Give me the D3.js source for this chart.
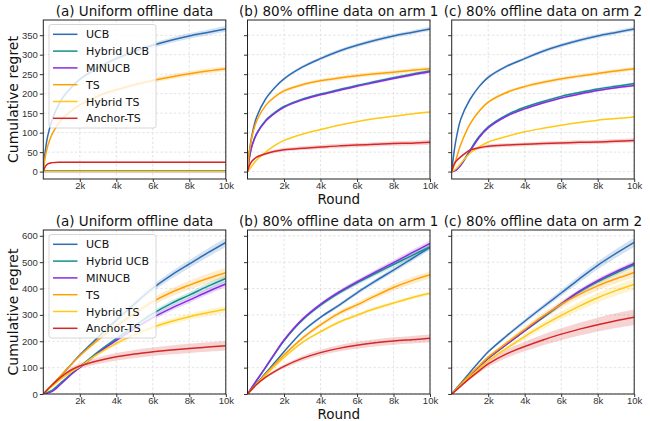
<!DOCTYPE html>
<html>
<head>
<meta charset="utf-8">
<script src="https://cdn.jsdelivr.net/npm/d3@7"></script>
<style>
  body { margin: 0; background: #fff; }
  svg { font-family: "DejaVu Sans", sans-serif; }
  .tick text { fill: #333; font-size: 9.5px; }
  .tick line { stroke: #333; }
</style>
</head>
<body>
<svg id="chart" width="650" height="421"></svg>
<script>
const SERIES = ["UCB", "Hybrid UCB", "MINUCB", "TS", "Hybrid TS", "Anchor-TS"];
const COLORS = ["#2d6db5", "#11908c", "#8a2be2", "#ffa000", "#ffc916", "#d62728"];
const TITLES = ["(a) Uniform offline data", "(b) 80% offline data on arm 1", "(c) 80% offline data on arm 2"];

const ROUNDS_TOP = [0, 100, 250, 500, 1000, 1500, 2000, 3000, 4000, 5000, 6000, 7000, 8000, 9000, 10000];
const ROUNDS_BOTTOM = [0, 500, 1000, 1500, 2000, 3000, 4000, 5000, 6000, 7000, 8000, 9000, 10000];

// top row (a) uniform
const topA = [
  [0, 50, 93, 135, 185, 214, 237, 267, 290, 309, 324, 337, 348, 357, 366],
  [0, 1.5, 1.5, 1.5, 1.5, 1.5, 1.5, 1.5, 1.5, 1.5, 1.5, 1.5, 1.5, 1.5, 1.5],
  [0, 0, 0, 0, 0, 0, 0, 0, 0, 0, 0, 0, 0, 0, 0],
  [0, 36, 67, 98, 133, 155, 171, 194, 210, 223, 234, 243, 251, 258, 264],
  [0, 0, 0, 0, 0, 0, 0, 0, 0, 0, 0, 0, 0, 0, 0],
  [0, 12, 20, 23, 24, 24, 24, 24, 24, 24, 24, 24, 24, 24, 24]
];
// top row (b) arm 1
const topB = [
  [0, 50, 95, 140, 187, 216, 238, 268, 290, 309, 324, 337, 348, 357, 366],
  [0, 35, 68, 98, 132, 152, 167, 186, 199, 210, 221, 231, 241, 250, 258],
  [0, 34, 66, 96, 130, 150, 165, 184, 197, 208, 219, 229, 239, 248, 256],
  [0, 48, 90, 130, 170, 192, 207, 223, 233, 240, 246, 251, 255, 260, 264],
  [0, 6, 15, 30, 50, 67, 80, 96, 108, 119, 128, 136, 142, 148, 153],
  [0, 15, 27, 37, 46, 52, 56, 60, 63, 66, 68, 70, 72, 73, 75]
];
// top row (c) arm 2
const topC = [
  [0, 40, 85, 135, 185, 218, 242, 270, 290, 309, 324, 337, 348, 357, 366],
  [0, 1, 5, 18, 55, 90, 115, 145, 165, 180, 193, 203, 212, 219, 226],
  [0, 1, 4, 16, 52, 87, 112, 142, 161, 176, 189, 199, 208, 215, 221],
  [0, 12, 33, 70, 122, 155, 178, 203, 218, 229, 238, 245, 252, 258, 264],
  [0, 3, 8, 21, 47, 63, 76, 90, 102, 111, 119, 126, 132, 136, 140],
  [0, 15, 27, 38, 55, 61, 65, 68, 70, 72, 73.5, 75, 76, 78, 80]
];
// bottom row (a) uniform
const bottomA = [
  [0, 36, 72, 110, 148, 215, 280, 342, 401, 450, 493, 535, 575],
  [0, 15, 45, 75, 103, 160, 210, 258, 305, 343, 375, 408, 438],
  [0, 10, 40, 72, 100, 155, 203, 248, 290, 325, 356, 388, 417],
  [0, 36, 72, 110, 145, 205, 258, 305, 350, 385, 413, 438, 460],
  [0, 30, 58, 82, 104, 152, 192, 225, 253, 275, 293, 308, 321],
  [0, 35, 66, 90, 106, 126, 141, 152, 160, 167, 173, 178, 183]
];
// bottom row (b) arm 1
const bottomB = [
  [0, 40, 80, 120, 160, 236, 291, 336, 384, 428, 470, 513, 556],
  [0, 51, 101, 152, 202, 280, 337, 383, 422, 457, 491, 525, 558],
  [0, 52, 103, 155, 205, 283, 340, 386, 425, 462, 498, 535, 571],
  [0, 38, 76, 112, 148, 211, 262, 306, 338, 372, 404, 430, 452],
  [0, 36, 72, 106, 139, 195, 236, 272, 299, 324, 345, 365, 382],
  [0, 36, 64, 86, 105, 135, 157, 173, 185, 194, 201, 206, 211]
];
// bottom row (c) arm 2
const bottomC = [
  [0, 41, 82, 122, 160, 220, 276, 330, 383, 437, 488, 533, 575],
  [0, 35, 70, 103, 135, 188, 239, 290, 340, 387, 426, 459, 490],
  [0, 35, 70, 103, 135, 188, 240, 292, 342, 390, 430, 464, 495],
  [0, 37, 73, 107, 140, 193, 245, 295, 340, 378, 410, 437, 461],
  [0, 33, 65, 96, 126, 173, 218, 260, 298, 333, 365, 392, 416],
  [0, 30, 60, 88, 114, 152, 180, 205, 227, 246, 263, 278, 291]
];

// relative half-width of the shaded band, per panel and series
const BAND_TOP = [
  [0.02, 0, 0, 0.025, 0, 0.08],
  [0.015, 0.015, 0.015, 0.02, 0.01, 0.08],
  [0.015, 0.015, 0.015, 0.02, 0.01, 0.07]
];
const BAND_BOTTOM = [
  [0.03, 0.03, 0.03, 0.04, 0.04, 0.1],
  [0.02, 0.02, 0.02, 0.03, 0.02, 0.07],
  [0.03, 0.02, 0.02, 0.04, 0.05, 0.1]
];

const X_TICKS = [2000, 4000, 6000, 8000, 10000];
const Y_TICKS_TOP = [0, 50, 100, 150, 200, 250, 300, 350];
const Y_TICKS_BOTTOM = [0, 100, 200, 300, 400, 500, 600];

const svg = d3.select("#chart");

const PANEL_X = [43.3, 247.5, 451.7];
const PANEL_W = 182.5;

const rows = [
  { top: 20, bottom: 179, yDomain: [-19, 389], yTicks: Y_TICKS_TOP, rounds: ROUNDS_TOP,
    data: [topA, topB, topC], bands: BAND_TOP },
  { top: 230, bottom: 394, yDomain: [0, 622], yTicks: Y_TICKS_BOTTOM, rounds: ROUNDS_BOTTOM,
    data: [bottomA, bottomB, bottomC], bands: BAND_BOTTOM }
];

const fmtK = d => (d / 1000) + "k";
const curve = d3.curveCatmullRom.alpha(0.5);

rows.forEach((row, ri) => {
  const y = d3.scaleLinear().domain(row.yDomain).range([row.bottom, row.top]);

  PANEL_X.forEach((px, pi) => {
    const x = d3.scaleLinear().domain([0, 10000]).range([px, px + PANEL_W]);
    const g = svg.append("g");
    const clipId = `clip-${ri}-${pi}`;
    g.append("clipPath").attr("id", clipId)
      .append("rect")
      .attr("x", px).attr("y", row.top)
      .attr("width", PANEL_W).attr("height", row.bottom - row.top);

    // grid
    g.selectAll(".gx").data(X_TICKS).enter().append("line")
      .attr("x1", d => x(d)).attr("x2", d => x(d))
      .attr("y1", row.top).attr("y2", row.bottom)
      .attr("stroke", "#dddddd").attr("stroke-width", 0.8).attr("stroke-dasharray", "2.5,2");
    g.selectAll(".gy").data(row.yTicks).enter().append("line")
      .attr("x1", px).attr("x2", px + PANEL_W)
      .attr("y1", d => y(d)).attr("y2", d => y(d))
      .attr("stroke", "#dddddd").attr("stroke-width", 0.8).attr("stroke-dasharray", "2.5,2");

    const plot = g.append("g").attr("clip-path", `url(#${clipId})`);
    const panelData = row.data[pi];

    panelData.forEach((vals, si) => {
      const frac = row.bands[pi][si];
      const pts = row.rounds.map((r, k) => ({ r, v: vals[k], e: vals[k] * frac }));
      const area = d3.area()
        .x(d => x(d.r)).y0(d => y(d.v - d.e)).y1(d => y(d.v + d.e))
        .curve(curve);
      plot.append("path").datum(pts)
        .attr("d", area)
        .attr("fill", COLORS[si]).attr("fill-opacity", 0.2);
    });

    panelData.forEach((vals, si) => {
      const pts = row.rounds.map((r, k) => ({ r, v: vals[k] }));
      const line = d3.line().x(d => x(d.r)).y(d => y(d.v)).curve(curve);
      plot.append("path").datum(pts)
        .attr("d", line)
        .attr("fill", "none")
        .attr("stroke", COLORS[si]).attr("stroke-width", 1.5);
    });

    // axes
    const xAxis = d3.axisBottom(x).tickValues(X_TICKS).tickFormat(fmtK).tickSize(3).tickPadding(0.5);
    g.append("g").attr("transform", `translate(0,${row.bottom})`).call(xAxis)
      .call(a => a.select(".domain").remove());

    const yAxis = d3.axisLeft(y).tickValues(row.yTicks).tickSize(3.5).tickPadding(2)
      .tickFormat(pi === 0 ? d3.format("d") : () => "");
    g.append("g").attr("transform", `translate(${px},0)`).call(yAxis)
      .call(a => a.select(".domain").remove());

    g.append("rect")
      .attr("x", px).attr("y", row.top)
      .attr("width", PANEL_W).attr("height", row.bottom - row.top)
      .attr("fill", "none").attr("stroke", "#222").attr("stroke-width", 1);

    g.append("text")
      .attr("x", px + PANEL_W / 2).attr("y", row.top - 4)
      .attr("text-anchor", "middle")
      .attr("font-size", 13.5).attr("fill", "#111")
      .text(TITLES[pi]);

    if (pi === 1) {
      g.append("text")
        .attr("x", px + PANEL_W / 2).attr("y", row.bottom + 25)
        .attr("text-anchor", "middle")
        .attr("font-size", 13.5).attr("fill", "#111")
        .text("Round");
    }

    if (pi === 0) {
      g.append("text")
        .attr("transform", `translate(17.5,${(row.top + row.bottom) / 2}) rotate(-90)`)
        .attr("text-anchor", "middle")
        .attr("font-size", 14).attr("fill", "#111")
        .text("Cumulative regret");

      // legend
      const lx = px + 5.7, ly = row.top + 4.5;
      const leg = g.append("g");
      leg.append("rect")
        .attr("x", lx).attr("y", ly)
        .attr("width", 107).attr("height", 103.5)
        .attr("rx", 2.5)
        .attr("fill", "#fff").attr("fill-opacity", 0.8)
        .attr("stroke", "#cccccc").attr("stroke-width", 0.8);
      const item = leg.selectAll(".item").data(SERIES).enter().append("g")
        .attr("transform", (d, i) => `translate(${lx},${ly + 9.8 + i * 16.8})`);
      item.append("line")
        .attr("x1", 4).attr("x2", 28.5).attr("y1", 0).attr("y2", 0)
        .attr("stroke", (d, i) => COLORS[i]).attr("stroke-width", 1.5);
      item.append("text")
        .attr("x", 37).attr("y", 4)
        .attr("font-size", 11).attr("fill", "#111")
        .text(d => d);
    }
  });
});
</script>
</body>
</html>
